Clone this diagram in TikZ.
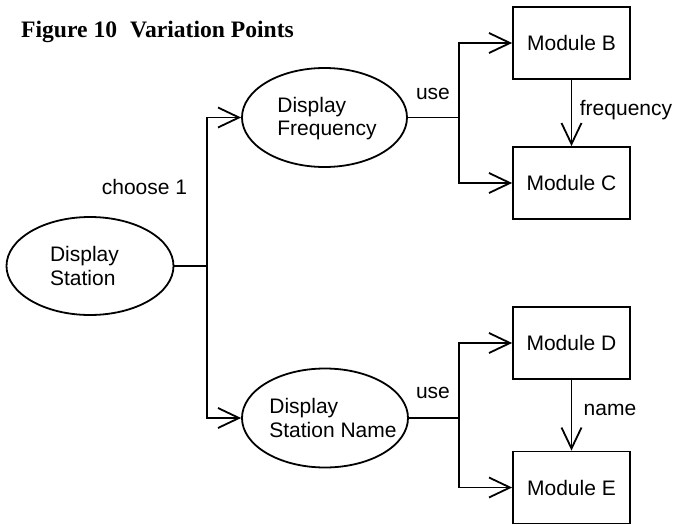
\documentclass[tikz,border=0pt]{standalone}
\usepackage{fontspec}
\setmainfont{Liberation Sans}
\newfontfamily\titlefont{Liberation Serif}
\usetikzlibrary{shapes.geometric,arrows.meta}
\begin{document}
\begin{tikzpicture}[x=1pt,y=-1pt,
  every node/.style={font=\fontsize{21}{23.5}\selectfont, inner sep=0pt},
  oval/.style={draw, ellipse, line width=1.8pt},
  ovaltext/.style={align=left, font=\fontsize{21}{23.5}\selectfont, inner sep=0pt},
  modbox/.style={draw, rectangle, line width=1.8pt, minimum width=117pt, minimum height=72pt},
  conn/.style={line width=1.8pt},
  arr/.style={conn, -{Straight Barb[length=21pt,width=20pt,line width=1.8pt]}},
  lbl/.style={}
]
\useasboundingbox (0,0) rectangle (673,525);
\node[anchor=base west, font=\titlefont\bfseries\fontsize{23.6}{27}\selectfont] (title) at (21,37) {Figure 10\hspace{0.55em}Variation Points};

\node[oval, minimum width=167pt, minimum height=98pt,
  label={[ovaltext, xshift=-5.5pt]center:Display\\Station}] (ds) at (90,266) {};
\node[oval, minimum width=165pt, minimum height=99pt,
  label={[ovaltext, xshift=2.5pt, yshift=-1pt]center:Display\\Frequency}] (df) at (324.5,117.5) {};
\node[oval, minimum width=166pt, minimum height=99pt,
  label={[ovaltext, xshift=8pt]center:Display\\Station Name}] (dsn) at (325,418) {};

\node[modbox] (B) at (571.5,43) {Module B};
\node[modbox] (C) at (571.5,183) {Module C};
\node[modbox] (D) at (571.5,343) {Module D};
\node[modbox] (E) at (571.5,487.5) {Module E};

\coordinate (j1) at (207,266);
\coordinate (j2) at (459,117.5);
\coordinate (j3) at (459,418);

\draw[conn] (ds.east) -- (j1);
\draw[arr] (j1) |- (df.west);
\draw[arr] (j1) |- (dsn.west);

\draw[conn] (df.east) -- (j2);
\draw[arr] (j2) |- (B.west);
\draw[arr] (j2) |- (C.west);

\draw[conn] (dsn.east) -- (j3);
\draw[arr] (j3) |- (D.west);
\draw[arr] (j3) |- (E.west);

\draw[arr] (B.south) -- (C.north);
\draw[arr] (D.south) -- (E.north);

\node[lbl] (l1) at (144.5,187) {choose 1};
\node[lbl] (l2) at (433,94) {use};
\node[lbl] (l3) at (433,393) {use};
\node[lbl] (l4) at (626,110) {frequency};
\node[lbl] (l5) at (610,410) {name};
\end{tikzpicture}
\end{document}
